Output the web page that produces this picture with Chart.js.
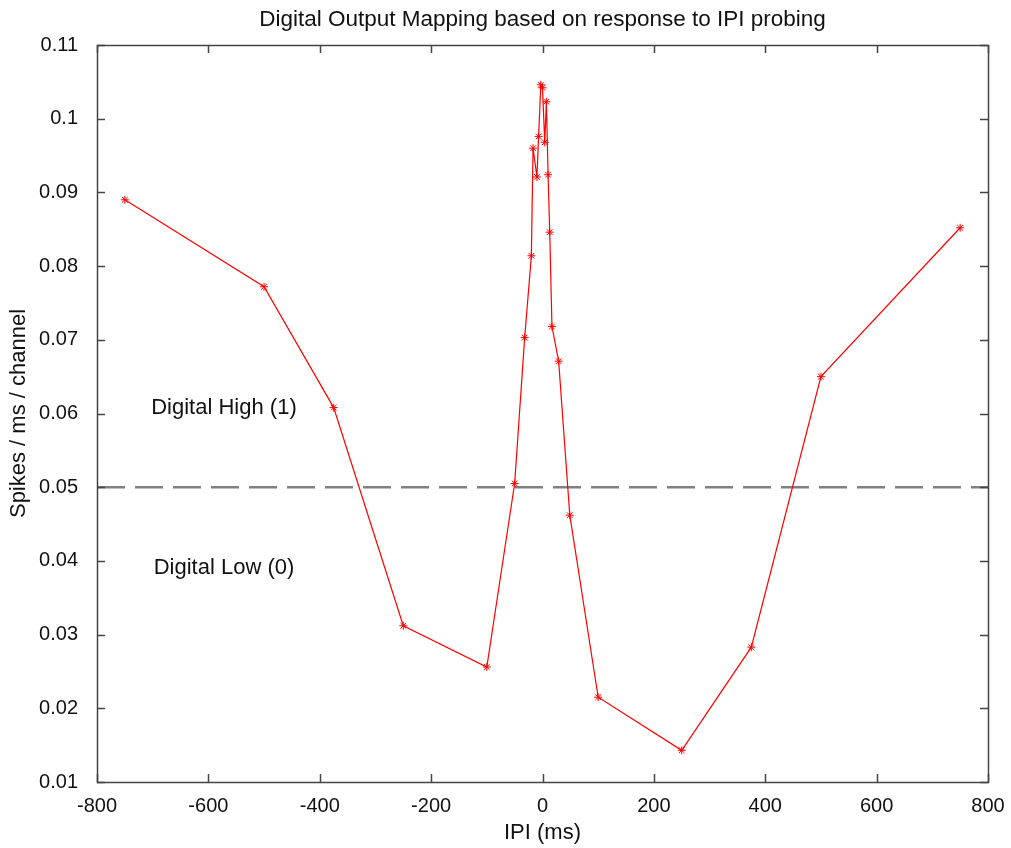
<!DOCTYPE html>
<html>
<head>
<meta charset="utf-8">
<script src="https://cdn.jsdelivr.net/npm/chart.js@4"></script>
<style>
  html, body { margin: 0; padding: 0; background: #fff; }
  #wrap { width: 1011px; height: 848px; }
</style>
</head>
<body>
<div id="wrap"><canvas id="c" width="1011" height="848"></canvas></div>
<script>
const FONT = '"Liberation Sans", Arial, sans-serif';

// IPI values (ms) and response (spikes / ms / channel)
const ipi = [
  -750, -500, -375, -250, -100, -50, -32, -20, -17, -10, -7, -3, 0,
  4, 7, 10, 13, 17, 29, 49, 100, 250, 375, 500, 750
];
const spikes = [
  0.0890, 0.0772, 0.0608, 0.0312, 0.0256, 0.0505, 0.0703, 0.0814, 0.0960, 0.0921,
  0.0976, 0.1046, 0.1042, 0.0968, 0.1023, 0.0924, 0.0846, 0.0718, 0.0671, 0.0462,
  0.0215, 0.0143, 0.0283, 0.0650, 0.0852
];
const threshold = 0.05;
const xTicks = [-800, -600, -400, -200, 0, 200, 400, 600, 800];
const yTicks = [0.01, 0.02, 0.03, 0.04, 0.05, 0.06, 0.07, 0.08, 0.09, 0.1, 0.11];

const points = ipi.map((x, i) => ({ x, y: spikes[i] }));

// matlab-style box with inward ticks, labels and title
const matlabBox = {
  id: 'matlabBox',
  afterDraw(chart) {
    const { ctx, chartArea: a, scales } = chart;
    ctx.save();
    ctx.strokeStyle = '#444';
    ctx.lineWidth = 1.5;
    ctx.strokeRect(a.left + 0.5, a.top + 0.5, a.right - a.left, a.bottom - a.top);
    ctx.beginPath();
    xTicks.forEach(v => {
      const px = Math.round(scales.x.getPixelForValue(v)) + 0.5;
      ctx.moveTo(px, a.bottom); ctx.lineTo(px, a.bottom - 8);
      ctx.moveTo(px, a.top); ctx.lineTo(px, a.top + 8);
    });
    yTicks.forEach(v => {
      const py = Math.round(scales.y.getPixelForValue(v)) + 0.5;
      ctx.moveTo(a.left, py); ctx.lineTo(a.left + 8, py);
      ctx.moveTo(a.right, py); ctx.lineTo(a.right - 8, py);
    });
    ctx.stroke();

    ctx.fillStyle = '#111';
    ctx.font = '22.5px ' + FONT;
    ctx.textAlign = 'center';
    ctx.textBaseline = 'middle';
    ctx.fillText('Digital Output Mapping based on response to IPI probing', (a.left + a.right) / 2, 20);

    ctx.font = '22px ' + FONT;
    ctx.fillText('Digital High (1)', scales.x.getPixelForValue(-572), scales.y.getPixelForValue(0.0608));
    ctx.fillText('Digital Low (0)', scales.x.getPixelForValue(-572), scales.y.getPixelForValue(0.0390));
    ctx.restore();
  }
};

new Chart(document.getElementById('c'), {
  type: 'scatter',
  data: {
    datasets: [
      {
        data: points,
        showLine: true,
        borderColor: '#ff0000',
        backgroundColor: '#ff0000',
        borderWidth: 1.2,
        pointStyle: 'star',
        pointRadius: 4,
        pointBorderWidth: 1,
        pointBorderColor: '#ff0000',
        order: 1
      },
      {
        data: [{ x: -800, y: threshold }, { x: 800, y: threshold }],
        showLine: true,
        borderColor: '#808080',
        borderWidth: 2.5,
        borderDash: [28, 10],
        pointRadius: 0,
        order: 2
      }
    ]
  },
  options: {
    responsive: false,
    animation: false,
    layout: { padding: { top: 45, right: 23, left: 6, bottom: 2 } },
    plugins: { legend: { display: false }, tooltip: { enabled: false } },
    scales: {
      x: {
        type: 'linear',
        min: -800, max: 800,
        afterBuildTicks: s => { s.ticks = xTicks.map(v => ({ value: v })); },
        afterFit: s => { s.height = 64; },
        grid: { display: false },
        border: { display: false },
        ticks: { color: '#111', font: { family: FONT, size: 20 }, padding: 4, maxRotation: 0 },
        title: { display: true, text: 'IPI (ms)', color: '#111', font: { family: FONT, size: 22 }, padding: 0 }
      },
      y: {
        type: 'linear',
        min: 0.01, max: 0.11,
        afterBuildTicks: s => { s.ticks = yTicks.map(v => ({ value: v })); },
        afterFit: s => { s.width = 91; },
        grid: { display: false },
        border: { display: false },
        ticks: {
          color: '#111', font: { family: FONT, size: 20 }, padding: 11,
          callback: v => String(Math.round(v * 100) / 100)
        },
        title: { display: true, text: 'Spikes / ms / channel', color: '#111', font: { family: FONT, size: 22 }, padding: 0 }
      }
    }
  },
  plugins: [matlabBox]
});
</script>
</body>
</html>
